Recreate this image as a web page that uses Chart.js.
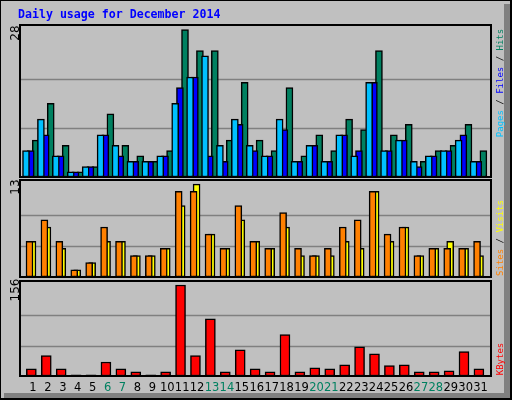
<!DOCTYPE html>
<html><head><meta charset="utf-8">
<script src="https://cdn.jsdelivr.net/npm/chart.js@4/dist/chart.umd.min.js"></script>
<style>
html,body{margin:0;padding:0;background:#fff}
#wrap{position:relative;width:512px;height:400px;background:#C0C0C0;overflow:hidden}
#wrap canvas{position:absolute;left:0;top:0}
.t{position:absolute;white-space:nowrap}
.rot{transform:translate(-50%,-50%) rotate(-90deg);font:9px "DejaVu Sans Mono",monospace;line-height:9px}
.lab{transform:translate(-50%,-50%) rotate(-90deg);font:12px "DejaVu Sans",sans-serif;line-height:12px;color:#000}
</style></head><body>
<div id="wrap">
<div style="position:absolute;left:0;top:0;width:510px;height:398px;border-left:1px solid #000;border-top:1px solid #000;box-sizing:border-box"></div>
<div style="position:absolute;left:504px;top:4px;width:6px;height:394px;background:#808080"></div>
<div style="position:absolute;left:4px;top:393px;width:506px;height:5px;background:#808080"></div>
<div style="position:absolute;left:510px;top:0;width:2px;height:400px;background:#000"></div>
<div style="position:absolute;left:0;top:398px;width:512px;height:2px;background:#000"></div>
<canvas id="c1" width="512" height="400"></canvas>
<canvas id="c2" width="512" height="400"></canvas>
<canvas id="c3" width="512" height="400"></canvas>
<div class="t" style="left:18px;top:7px;font:bold 11.6px 'DejaVu Sans Mono',monospace;color:#0000FF">Daily usage for December 2014</div>
<div class="t lab" style="left:15px;top:33px">28</div>
<div class="t lab" style="left:15px;top:187px">13</div>
<div class="t lab" style="left:15px;top:290px">156</div>
<div class="t rot" style="left:500px;top:83px"><span style="color:#00C0FF">Pages</span> / <span style="color:#0000FF">Files</span> / <span style="color:#008060">Hits</span></div>
<div class="t rot" style="left:500px;top:238px"><span style="color:#FF8000">Sites</span> / <span style="color:#FFFF00">Visits</span></div>
<div class="t rot" style="left:500px;top:359px"><span style="color:#FF0000">KBytes</span></div>
</div>
<script>
const days = Array.from({length:31},(_,i)=>i+1);
const weekendDays = [6,7,13,14,20,21,27,28];
const hits   = [7,14,6,1,2,12,6,4,3,5,28,24,24,7,18,7,5,17,4,8,5,11,9,24,8,10,3,5,6,10,5];
const files  = [5,8,4,1,2,8,4,3,3,4,17,19,4,3,10,5,4,9,3,6,3,8,5,18,5,7,2,4,5,8,3];
const pages  = [5,11,4,1,2,8,6,3,3,4,14,19,23,6,11,6,4,11,3,6,3,8,4,18,5,7,3,4,5,7,3];
const sites  = [5,7,4,1,2,5,5,3,3,4,10,13,6,4,8,5,4,7,3,3,3,5,4,12,5,7,3,4,5,4,3];
const visits = [5,8,5,1,2,7,5,3,3,4,12,12,6,4,10,5,4,9,4,3,4,7,8,12,6,7,3,4,4,4,5];
const kbytes = [12.5,35,12.5,2,2,24,12.5,7,2,7,156,35,98,7,45,12.5,7,71,7,14,12.5,19,50,38,18,19,7,7,9,42,12.5];
const topMax = [28,13,156];

const frame = {
  id:'frame',
  beforeDatasetsDraw(ch){
    const ctx=ch.ctx, ca=ch.chartArea, y=ch.scales.y, m=ch.options.plugins.frame.max;
    ctx.save(); ctx.strokeStyle='#808080'; ctx.lineWidth=1.5;
    [m/3,2*m/3].forEach(v=>{const p=Math.round(y.getPixelForValue(v))+0.5;ctx.beginPath();ctx.moveTo(ca.left,p);ctx.lineTo(ca.right,p);ctx.stroke();});
    ctx.restore();
  },
  afterDraw(ch){
    const ctx=ch.ctx, ca=ch.chartArea;
    ctx.save(); ctx.strokeStyle='#000'; ctx.lineWidth=2;
    ctx.strokeRect(ca.left,ca.top,ca.right-ca.left,ca.bottom-ca.top);
    if(ch.options.plugins.frame.labels){
      const x=ch.scales.x;
      ctx.font='11.5px "DejaVu Sans", sans-serif'; ctx.textAlign='center'; ctx.textBaseline='middle';
      days.forEach(d=>{ctx.fillStyle=weekendDays.includes(d)?'#008060':'#000';ctx.fillText(String(d),x.getPixelForValue(d),388);});
    }
    ctx.restore();
  }
};
function ds(vals,off,color,w,order){
  return {data:vals.map((v,i)=>({x:days[i]+off,y:v})),backgroundColor:color,borderColor:'#000',borderWidth:1.5,borderSkipped:false,barThickness:w,order};
}
function mk(id,datasets,ymax,labMax,pad,labels){
  new Chart(document.getElementById(id),{type:'bar',data:{datasets},
    options:{responsive:false,animation:false,layout:{padding:pad},
      plugins:{legend:{display:false},tooltip:{enabled:false},frame:{max:labMax,labels}},
      scales:{x:{type:'linear',min:0.129,max:31.7,offset:false,bounds:'ticks',display:false},y:{min:0,max:ymax,display:false}}},
    plugins:[frame]});
}
mk('c1',[ds(hits,-0.28,'#008060',7,3),ds(files,-0.15,'#0000FF',7,2),ds(pages,0,'#00C0FF',7,1)],28.87,topMax[0],{left:20,right:21,top:25,bottom:223},false);
mk('c2',[ds(sites,-0.27,'#FFFF00',7,2),ds(visits,0,'#FF8000',7,1)],13.57,topMax[1],{left:20,right:21,top:180,bottom:123},false);
mk('c3',[ds(kbytes,-0.11,'#FF0000',10,1)],162.8,topMax[2],{left:20,right:21,top:281,bottom:24},true);
</script>
</body></html>
